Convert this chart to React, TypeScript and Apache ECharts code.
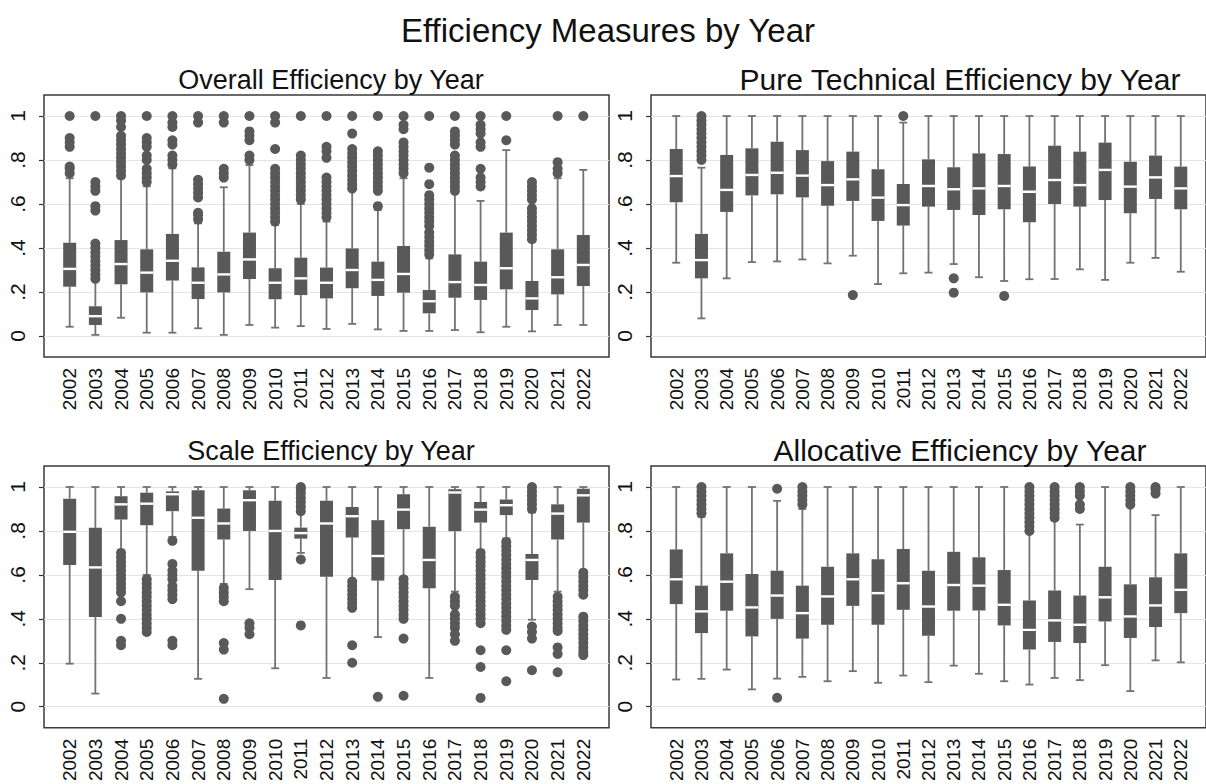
import React, { useEffect, useRef } from 'react';
import * as echarts from 'echarts';

const years = ['2002','2003','2004','2005','2006','2007','2008','2009','2010','2011','2012','2013','2014','2015','2016','2017','2018','2019','2020','2021','2022'];
const yTicks = [0, 0.2, 0.4, 0.6, 0.8, 1];

// [min, Q1, median, Q3, max] per year
const overallBoxes = [
  [0.042, 0.224, 0.305, 0.424, 0.717],
  [0.005, 0.05, 0.09, 0.135, 0.25],
  [0.083, 0.235, 0.327, 0.436, 0.717],
  [0.015, 0.198, 0.288, 0.394, 0.68],
  [0.015, 0.252, 0.342, 0.464, 0.762],
  [0.035, 0.168, 0.242, 0.312, 0.512],
  [0.005, 0.198, 0.28, 0.383, 0.676],
  [0.05, 0.259, 0.348, 0.47, 0.777],
  [0.038, 0.167, 0.242, 0.308, 0.505],
  [0.045, 0.186, 0.262, 0.356, 0.6],
  [0.032, 0.171, 0.242, 0.311, 0.52],
  [0.055, 0.217, 0.3, 0.398, 0.664],
  [0.03, 0.182, 0.255, 0.338, 0.573],
  [0.023, 0.197, 0.282, 0.409, 0.717],
  [0.023, 0.103, 0.158, 0.209, 0.353],
  [0.027, 0.174, 0.245, 0.371, 0.648],
  [0.017, 0.164, 0.232, 0.338, 0.614],
  [0.042, 0.212, 0.308, 0.47, 0.845],
  [0.021, 0.118, 0.171, 0.25, 0.429],
  [0.05, 0.189, 0.267, 0.394, 0.717],
  [0.05, 0.227, 0.323, 0.459, 0.755]
];
const overallOutliers = [
  [0.74, 0.76, 0.77, 0.86, 0.88, 0.9, 1.0],
  [0.26, 0.28, 0.3, 0.32, 0.34, 0.36, 0.38, 0.4, 0.42, 0.57, 0.59, 0.66, 0.68, 0.7, 1.0],
  [0.73, 0.75, 0.77, 0.79, 0.81, 0.83, 0.85, 0.87, 0.89, 0.91, 0.95, 0.98, 1.0],
  [0.7, 0.72, 0.74, 0.76, 0.8, 0.82, 0.86, 0.88, 0.9, 1.0],
  [0.78, 0.8, 0.82, 0.87, 0.89, 0.95, 0.97, 1.0],
  [0.53, 0.55, 0.56, 0.63, 0.65, 0.67, 0.69, 0.71, 0.97, 1.0],
  [0.72, 0.74, 0.76, 0.97, 1.0],
  [0.8, 0.82, 0.89, 0.91, 0.93, 1.0],
  [0.52, 0.54, 0.56, 0.58, 0.6, 0.62, 0.64, 0.66, 0.68, 0.7, 0.72, 0.74, 0.76, 0.85, 0.97, 1.0],
  [0.62, 0.64, 0.66, 0.68, 0.7, 0.72, 0.74, 0.76, 0.78, 0.8, 0.82, 1.0],
  [0.54, 0.56, 0.58, 0.6, 0.62, 0.64, 0.66, 0.68, 0.7, 0.72, 0.81, 0.84, 0.86, 1.0],
  [0.67, 0.69, 0.71, 0.73, 0.75, 0.77, 0.79, 0.81, 0.83, 0.85, 0.92, 1.0],
  [0.59, 0.66, 0.68, 0.7, 0.72, 0.74, 0.76, 0.78, 0.8, 0.82, 0.84, 1.0],
  [0.74, 0.76, 0.78, 0.8, 0.82, 0.84, 0.86, 0.88, 0.94, 0.96, 1.0],
  [0.37, 0.39, 0.41, 0.43, 0.45, 0.47, 0.5, 0.52, 0.54, 0.56, 0.58, 0.6, 0.62, 0.64, 0.69, 0.765, 1.0],
  [0.66, 0.68, 0.7, 0.72, 0.74, 0.76, 0.78, 0.8, 0.82, 0.87, 0.89, 0.91, 0.93, 1.0],
  [0.68, 0.7, 0.72, 0.76, 0.86, 0.88, 0.92, 0.94, 0.96, 1.0],
  [0.89, 1.0],
  [0.44, 0.46, 0.48, 0.5, 0.52, 0.54, 0.56, 0.58, 0.62, 0.64, 0.66, 0.68, 0.7],
  [0.74, 0.76, 0.79, 1.0],
  [1.0]
];

const pureBoxes = [
  [0.333, 0.608, 0.727, 0.85, 1.0],
  [0.08, 0.262, 0.345, 0.464, 0.765],
  [0.262, 0.564, 0.664, 0.823, 1.0],
  [0.336, 0.639, 0.732, 0.853, 1.0],
  [0.339, 0.644, 0.742, 0.883, 1.0],
  [0.348, 0.63, 0.729, 0.845, 1.0],
  [0.33, 0.592, 0.686, 0.795, 1.0],
  [0.365, 0.614, 0.712, 0.838, 1.0],
  [0.236, 0.523, 0.629, 0.758, 1.0],
  [0.285, 0.502, 0.595, 0.691, 0.97],
  [0.288, 0.588, 0.682, 0.803, 1.0],
  [0.327, 0.573, 0.667, 0.767, 1.0],
  [0.267, 0.55, 0.671, 0.83, 1.0],
  [0.25, 0.576, 0.682, 0.827, 1.0],
  [0.258, 0.517, 0.656, 0.77, 1.0],
  [0.259, 0.6, 0.709, 0.865, 1.0],
  [0.303, 0.588, 0.686, 0.838, 1.0],
  [0.255, 0.618, 0.755, 0.879, 1.0],
  [0.333, 0.558, 0.679, 0.792, 1.0],
  [0.355, 0.623, 0.721, 0.82, 1.0],
  [0.292, 0.576, 0.671, 0.77, 1.0]
];
const pureOutliers = [
  [], [0.8, 0.82, 0.84, 0.86, 0.88, 0.9, 0.92, 0.94, 0.96, 0.98, 1.0], [], [], [], [], [],
  [0.186], [], [1.0], [], [0.197, 0.262], [], [0.182], [], [], [], [], [], [], []
];

const scaleBoxes = [
  [0.196, 0.645, 0.796, 0.947, 1.0],
  [0.06, 0.408, 0.634, 0.814, 1.0],
  [0.713, 0.852, 0.921, 0.958, 1.0],
  [0.6, 0.826, 0.924, 0.974, 1.0],
  [0.773, 0.89, 0.967, 0.98, 1.0],
  [0.127, 0.619, 0.86, 0.985, 1.0],
  [0.559, 0.761, 0.834, 0.902, 1.0],
  [0.535, 0.8, 0.94, 0.985, 1.0],
  [0.175, 0.577, 0.8, 0.937, 1.0],
  [0.7, 0.765, 0.79, 0.815, 0.88],
  [0.131, 0.592, 0.834, 0.937, 1.0],
  [0.577, 0.77, 0.867, 0.909, 1.0],
  [0.317, 0.574, 0.686, 0.849, 1.0],
  [0.592, 0.808, 0.897, 0.967, 1.0],
  [0.131, 0.539, 0.668, 0.819, 1.0],
  [0.524, 0.799, 0.975, 0.99, 1.0],
  [0.713, 0.838, 0.897, 0.932, 1.0],
  [0.766, 0.872, 0.917, 0.943, 1.0],
  [0.396, 0.577, 0.668, 0.695, 0.884],
  [0.524, 0.761, 0.879, 0.921, 1.0],
  [0.622, 0.838, 0.962, 0.992, 1.0]
];
const scaleOutliers = [
  [], [],
  [0.7, 0.68, 0.66, 0.64, 0.62, 0.6, 0.58, 0.56, 0.54, 0.52, 0.48, 0.4, 0.3, 0.28],
  [0.58, 0.56, 0.54, 0.52, 0.5, 0.48, 0.46, 0.44, 0.42, 0.4, 0.38, 0.36, 0.34],
  [0.755, 0.65, 0.62, 0.6, 0.58, 0.55, 0.53, 0.51, 0.49, 0.3, 0.28],
  [],
  [0.54, 0.52, 0.5, 0.48, 0.29, 0.26, 0.036],
  [0.38, 0.36, 0.33],
  [],
  [0.89, 0.91, 0.93, 0.95, 0.97, 0.99, 1.0, 0.67, 0.37],
  [],
  [0.57, 0.55, 0.53, 0.51, 0.49, 0.47, 0.45, 0.28, 0.2],
  [0.045],
  [0.58, 0.56, 0.54, 0.52, 0.5, 0.48, 0.46, 0.44, 0.42, 0.4, 0.31, 0.05],
  [],
  [0.5, 0.48, 0.46, 0.42, 0.4, 0.38, 0.36, 0.33, 0.3],
  [0.7, 0.68, 0.66, 0.64, 0.62, 0.6, 0.58, 0.56, 0.54, 0.52, 0.5, 0.48, 0.46, 0.44, 0.42, 0.4, 0.38, 0.257, 0.181, 0.04],
  [0.75, 0.73, 0.71, 0.69, 0.67, 0.65, 0.63, 0.61, 0.59, 0.57, 0.55, 0.53, 0.51, 0.49, 0.47, 0.45, 0.43, 0.41, 0.39, 0.37, 0.35, 0.257, 0.116],
  [1.0, 0.98, 0.96, 0.94, 0.92, 0.9, 0.365, 0.34, 0.31, 0.166],
  [0.5, 0.48, 0.46, 0.44, 0.42, 0.4, 0.38, 0.36, 0.345, 0.27, 0.24, 0.157],
  [0.61, 0.59, 0.57, 0.55, 0.53, 0.51, 0.41, 0.39, 0.37, 0.35, 0.33, 0.31, 0.29, 0.27, 0.25, 0.235]
];

const allocBoxes = [
  [0.124, 0.467, 0.58, 0.716, 1.0],
  [0.127, 0.335, 0.434, 0.551, 0.864],
  [0.169, 0.437, 0.569, 0.698, 1.0],
  [0.079, 0.32, 0.452, 0.604, 1.0],
  [0.128, 0.4, 0.506, 0.619, 0.937],
  [0.136, 0.31, 0.426, 0.551, 0.9],
  [0.116, 0.373, 0.502, 0.637, 1.0],
  [0.162, 0.459, 0.58, 0.698, 1.0],
  [0.109, 0.373, 0.517, 0.671, 1.0],
  [0.142, 0.441, 0.562, 0.718, 1.0],
  [0.112, 0.323, 0.456, 0.619, 1.0],
  [0.187, 0.437, 0.554, 0.705, 1.0],
  [0.15, 0.438, 0.551, 0.68, 1.0],
  [0.116, 0.37, 0.464, 0.622, 1.0],
  [0.101, 0.26, 0.35, 0.483, 0.796],
  [0.131, 0.295, 0.393, 0.529, 0.852],
  [0.121, 0.29, 0.373, 0.506, 0.829],
  [0.189, 0.388, 0.498, 0.637, 1.0],
  [0.071, 0.313, 0.411, 0.557, 0.912],
  [0.211, 0.363, 0.461, 0.589, 0.872],
  [0.202, 0.426, 0.532, 0.698, 1.0]
];
const allocOutliers = [
  [], [0.88, 0.9, 0.92, 0.94, 0.96, 0.98, 1.0], [], [], [0.992, 0.041],
  [0.92, 0.94, 0.96, 0.98, 1.0], [], [], [], [], [], [], [], [],
  [0.8, 0.82, 0.84, 0.86, 0.88, 0.9, 0.92, 0.94, 0.96, 0.98, 1.0],
  [0.86, 0.88, 0.9, 0.92, 0.94, 0.96, 0.98, 1.0],
  [0.9, 0.92, 0.96, 0.98, 1.0],
  [],
  [0.92, 0.94, 0.96, 0.98, 1.0],
  [0.97, 0.99, 1.0],
  []
];

const panelTitles = ['Overall Efficiency by Year', 'Pure Technical Efficiency by Year', 'Scale Efficiency by Year', 'Allocative Efficiency by Year'];
const panelBoxes = [overallBoxes, pureBoxes, scaleBoxes, allocBoxes];
const panelOutliers = [overallOutliers, pureOutliers, scaleOutliers, allocOutliers];

const FONT = '"Liberation Sans", Arial, Helvetica, sans-serif';
const BOX = '#595959';
const WHISK = '#727272';

function fmt(v: number) {
  if (Math.abs(v) < 1e-9) return '0';
  if (Math.abs(v - 1) < 1e-9) return '1';
  return String(Math.round(v * 10) / 10).replace(/^0/, '');
}

export default function App() {
  const ref = useRef<HTMLDivElement>(null);
  useEffect(() => {
    if (!ref.current) return;
    const chart = echarts.init(ref.current, undefined, { renderer: 'svg' });
    const lefts = [44, 651, 44, 651];
    const tops = [95, 95, 466, 466];
    const titleX = [326, 955, 326, 955];
    const titleSize = [27, 30, 27, 30];
    const titleY = [61, 59, 432, 430];
    const cats = ['', ...years, ''];

    const grid: any[] = [];
    const xAxis: any[] = [];
    const yAxis: any[] = [];
    const series: any[] = [];
    const title: any[] = [{
      text: 'Efficiency Measures by Year', left: 603, top: 9, textAlign: 'center',
      textStyle: { fontFamily: FONT, fontSize: 33, fontWeight: 'normal', color: '#111' }
    }];

    for (let i = 0; i < 4; i++) {
      title.push({
        text: panelTitles[i], left: titleX[i], top: titleY[i], textAlign: 'center',
        textStyle: { fontFamily: FONT, fontSize: titleSize[i], fontWeight: 'normal', color: '#111' }
      });
      grid.push({
        left: lefts[i], top: tops[i], width: 565, height: 262, show: true,
        borderColor: '#3a3a3a', borderWidth: 1.5, backgroundColor: '#fff'
      });
      xAxis.push({
        type: 'category', gridIndex: i, data: cats, boundaryGap: false,
        axisLine: { show: false }, axisTick: { show: false }, splitLine: { show: false },
        axisLabel: { interval: 0, rotate: 90, fontSize: 19, fontFamily: FONT, color: '#111', margin: 11 }
      });
      yAxis.push({
        type: 'value', gridIndex: i, min: -0.0955, max: 1.0955,
        axisLine: { show: false },
        axisTick: { show: true, length: 5, customValues: yTicks, lineStyle: { color: '#333', width: 1.2 } },
        axisLabel: { customValues: yTicks, rotate: 90, fontSize: 21, fontFamily: FONT, color: '#111', margin: 16, formatter: (v: number) => fmt(v) },
        splitLine: { show: true, lineStyle: { color: '#e4e4e4', width: 1.2 } }
      });
      const boxes = panelBoxes[i];
      series.push({
        type: 'custom', xAxisIndex: i, yAxisIndex: i,
        encode: { x: 0, y: [1, 2, 3, 4, 5] },
        data: boxes.map((b, k) => [years[k], ...b]),
        renderItem: (params: any, api: any) => {
          const xi = api.value(0);
          const pMin = api.coord([xi, api.value(1)]);
          const pQ1 = api.coord([xi, api.value(2)]);
          const pMed = api.coord([xi, api.value(3)]);
          const pQ3 = api.coord([xi, api.value(4)]);
          const pMax = api.coord([xi, api.value(5)]);
          const x = pMin[0];
          const bw = 13, cw = 8;
          const ls = { stroke: WHISK, lineWidth: 1.8 };
          return {
            type: 'group',
            children: [
              { type: 'line', shape: { x1: x, y1: pMax[1], x2: x, y2: pQ3[1] }, style: ls },
              { type: 'line', shape: { x1: x, y1: pQ1[1], x2: x, y2: pMin[1] }, style: ls },
              { type: 'line', shape: { x1: x - cw / 2, y1: pMax[1], x2: x + cw / 2, y2: pMax[1] }, style: ls },
              { type: 'line', shape: { x1: x - cw / 2, y1: pMin[1], x2: x + cw / 2, y2: pMin[1] }, style: ls },
              { type: 'rect', shape: { x: x - bw / 2, y: pQ3[1], width: bw, height: pQ1[1] - pQ3[1] }, style: { fill: BOX } },
              { type: 'rect', shape: { x: x - bw / 2, y: pMed[1] - 1.2, width: bw, height: 2.4 }, style: { fill: '#ffffff' } }
            ]
          };
        }
      });
      const pts: any[] = [];
      panelOutliers[i].forEach((arr, k) => arr.forEach((v) => pts.push([years[k], v])));
      series.push({
        type: 'scatter', xAxisIndex: i, yAxisIndex: i, data: pts,
        symbol: 'circle', symbolSize: 10, itemStyle: { color: BOX, opacity: 1 }, z: 3
      });
    }

    chart.setOption({
      animation: false,
      backgroundColor: '#ffffff',
      textStyle: { fontFamily: FONT },
      title, grid, xAxis, yAxis, series
    });
    return () => chart.dispose();
  }, []);
  return <div ref={ref} style={{ position: 'absolute', left: 0, top: 0, width: 1206, height: 784 }} />;
}
